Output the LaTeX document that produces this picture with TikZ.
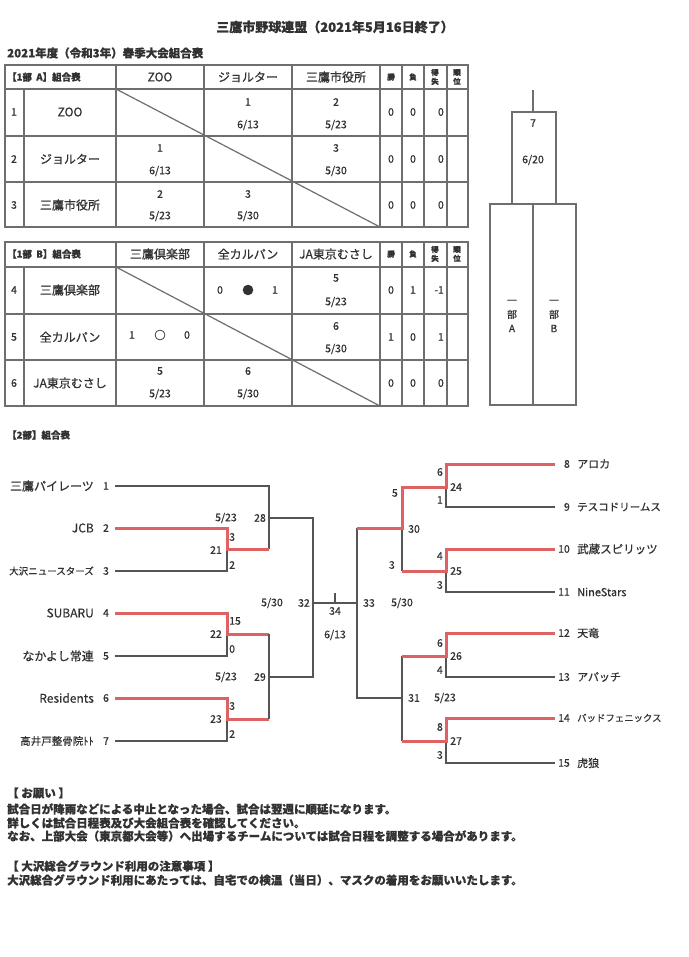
\documentclass[tikz,border=0pt]{standalone}
\usepackage{fontspec}
\setmainfont{Noto Sans CJK JP}[FakeBold=0.6]
\usepackage{tikz}
\definecolor{ink}{RGB}{50,50,50}
\definecolor{tabgray}{RGB}{110,110,110}
\definecolor{linegray}{RGB}{85,85,85}
\definecolor{winred}{RGB}{222,98,98}
\newcommand{\setfs}[1]{\fontsize{#1}{#1}\selectfont}

\begin{document}
\begin{tikzpicture}[x=1pt,y=-1pt,
        every node/.style={text=ink, inner sep=0pt},
        tabline/.style={draw=tabgray, line width=1.2pt},
        lost/.style={draw=linegray, line width=1.2pt},
        won/.style={draw=winred, line width=3pt},
        nm/.style={font=\setfs{12}},
        sc/.style={font=\setfs{10.5}},
        sm/.style={font=\bfseries\fontsize{7.5}{9}\selectfont, align=center},
        hd/.style={font=\bfseries\setfs{9.5}, anchor=west},
        nt/.style={font=\bfseries\setfs{11.5}, anchor=west},
        vt/.style={font=\fontsize{10}{14}\selectfont, align=center}]
        \fill[white] (0,0) rectangle (688,957);
        \useasboundingbox (0,0) rectangle (688,957);

        \node[font=\bfseries\setfs{13}] (title) at (335,27) {三鷹市野球連盟（2021年5月16日終了）};
        \node[font=\bfseries\setfs{11.5}, anchor=west] (subtitle) at (7,53) {2021年度（令和3年）春季大会組合表};

        % 1部 A
        \draw[tabline] (5,65) rectangle (468,227);
        \draw[tabline] (5,89) -- (468,89);
        \draw[tabline] (5,136) -- (468,136);
        \draw[tabline] (5,182) -- (468,182);
        \draw[tabline] (24,89) -- (24,227);
        \draw[tabline] (116,65) -- (116,227);
        \draw[tabline] (204,65) -- (204,227);
        \draw[tabline] (292,65) -- (292,227);
        \draw[tabline] (380,65) -- (380,227);
        \draw[tabline] (402,65) -- (402,227);
        \draw[tabline] (424,65) -- (424,227);
        \draw[tabline] (447,65) -- (447,227);
        \draw[tabline] (116,89) -- (380,227);

        \node[hd] (hA) at (7,77) {【1部~~A】組合表};
        \node[nm] (hA1) at (160,77) {ZOO};
        \node[nm] (hA2) at (248,77) {ジョルター};
        \node[nm] (hA3) at (336,77) {三鷹市役所};
        \node[sm] (hAw) at (391,77) {勝};
        \node[sm] (hAl) at (413,77) {負};
        \node[sm] (hAd) at (435,77) {得\\失};
        \node[sm] (hAr) at (457,77) {順\\位};

        \node[sc] (rA1) at (14,112) {1};
        \node[nm] (tA1) at (70,112) {ZOO};
        \node[sc] (cA12a) at (248,102) {1};
        \node[sc] (cA12b) at (248,125) {6/13};
        \node[sc] (cA13a) at (336,102) {2};
        \node[sc] (cA13b) at (336,125) {5/23};
        \node[sc] (wA1) at (391,112) {0};
        \node[sc] (lA1) at (413,112) {0};
        \node[sc, anchor=east] (dA1) at (444,112) {0};

        \node[sc] (rA2) at (14,159) {2};
        \node[nm] (tA2) at (70,159) {ジョルター};
        \node[sc] (cA21a) at (160,148) {1};
        \node[sc] (cA21b) at (160,171) {6/13};
        \node[sc] (cA23a) at (336,148) {3};
        \node[sc] (cA23b) at (336,171) {5/30};
        \node[sc] (wA2) at (391,159) {0};
        \node[sc] (lA2) at (413,159) {0};
        \node[sc, anchor=east] (dA2) at (444,159) {0};

        \node[sc] (rA3) at (14,205) {3};
        \node[nm] (tA3) at (70,205) {三鷹市役所};
        \node[sc] (cA31a) at (160,194) {2};
        \node[sc] (cA31b) at (160,216) {5/23};
        \node[sc] (cA32a) at (248,194) {3};
        \node[sc] (cA32b) at (248,216) {5/30};
        \node[sc] (wA3) at (391,205) {0};
        \node[sc] (lA3) at (413,205) {0};
        \node[sc, anchor=east] (dA3) at (444,205) {0};

        % 1部 B
        \draw[tabline] (5,242) rectangle (468,406);
        \draw[tabline] (5,267) -- (468,267);
        \draw[tabline] (5,314) -- (468,314);
        \draw[tabline] (5,360) -- (468,360);
        \draw[tabline] (24,267) -- (24,406);
        \draw[tabline] (116,242) -- (116,406);
        \draw[tabline] (204,242) -- (204,406);
        \draw[tabline] (292,242) -- (292,406);
        \draw[tabline] (380,242) -- (380,406);
        \draw[tabline] (402,242) -- (402,406);
        \draw[tabline] (424,242) -- (424,406);
        \draw[tabline] (447,242) -- (447,406);
        \draw[tabline] (116,267) -- (380,406);

        \node[hd] (hB) at (7,254) {【1部~~B】組合表};
        \node[nm] (hB1) at (160,254) {三鷹倶楽部};
        \node[nm] (hB2) at (248,254) {全カルパン};
        \node[nm] (hB3) at (336,254) {JA東京むさし};
        \node[sm] (hBw) at (391,254) {勝};
        \node[sm] (hBl) at (413,254) {負};
        \node[sm] (hBd) at (435,254) {得\\失};
        \node[sm] (hBr) at (457,254) {順\\位};

        \node[sc] (rB4) at (14,290) {4};
        \node[nm] (tB4) at (70,290) {三鷹倶楽部};
        \node[sc] (cB45a) at (220,290) {0};
        \node[sc, font=\setfs{11.5}] (cB45m) at (248,290) {●};
        \node[sc] (cB45b) at (275,290) {1};
        \node[sc] (cB46a) at (336,278) {5};
        \node[sc] (cB46b) at (336,302) {5/23};
        \node[sc] (wB4) at (391,290) {0};
        \node[sc] (lB4) at (413,290) {1};
        \node[sc, anchor=east] (dB4) at (444,290) {-1};

        \node[sc] (rB5) at (14,337) {5};
        \node[nm] (tB5) at (70,337) {全カルパン};
        \node[sc] (cB54a) at (132,335) {1};
        \node[sc, font=\setfs{11.5}] (cB54m) at (160,335) {○};
        \node[sc] (cB54b) at (187,335) {0};
        \node[sc] (cB56a) at (336,326) {6};
        \node[sc] (cB56b) at (336,349) {5/30};
        \node[sc] (wB5) at (391,337) {1};
        \node[sc] (lB5) at (413,337) {0};
        \node[sc, anchor=east] (dB5) at (444,337) {1};

        \node[sc] (rB6) at (14,383) {6};
        \node[nm] (tB6) at (70,383) {JA東京むさし};
        \node[sc] (cB64a) at (160,371) {5};
        \node[sc] (cB64b) at (160,394) {5/23};
        \node[sc] (cB65a) at (248,371) {6};
        \node[sc] (cB65b) at (248,394) {5/30};
        \node[sc] (wB6) at (391,383) {0};
        \node[sc] (lB6) at (413,383) {0};
        \node[sc, anchor=east] (dB6) at (444,383) {0};

        % 1部 決勝
        \draw[tabline] (533,90) -- (533,112);
        \draw[tabline] (512,112) rectangle (556,204);
        \draw[tabline] (490,204) rectangle (576,405);
        \draw[tabline] (533,204) -- (533,405);
        \node[sc] (fin) at (533,123) {7};
        \node[sc] (findate) at (533,160) {6/20};
        \node[vt] (divA) at (512,316) {一\\部\\A};
        \node[vt] (divB) at (554,316) {一\\部\\B};

        % 2部
        \node[hd] (h2) at (7,435) {【2部】組合表};

        \draw[lost] (115,486) -- (269,486) -- (269,549);
        \draw[lost] (115,571) -- (227,571) -- (227,549);
        \draw[won] (115,528) -- (227,528) -- (227,549) -- (269,549);
        \draw[lost] (115,656) -- (227,656) -- (227,634);
        \draw[won] (115,613) -- (227,613) -- (227,634) -- (269,634);
        \draw[lost] (115,741) -- (227,741) -- (227,719);
        \draw[won] (115,698) -- (227,698) -- (227,719) -- (269,719);
        \draw[lost] (269,634) -- (269,719);
        \draw[lost] (269,518) -- (313,518) -- (313,677) -- (269,677);
        \draw[lost] (313,603) -- (357,603);
        \draw[lost] (335,593) -- (335,603);

        \node[nm, anchor=east] (t1) at (94,486) {三鷹パイレーツ};
        \node[nm, anchor=east] (t2) at (94,528) {JCB};
        \node[nm, anchor=east, font=\setfs{9.5}] (t3) at (94,571) {大沢ニュースターズ};
        \node[nm, anchor=east] (t4) at (94,613) {SUBARU};
        \node[nm, anchor=east] (t5) at (94,656) {なかよし常連};
        \node[nm, anchor=east] (t6) at (94,698) {Residents};
        \node[nm, anchor=east, font=\setfs{10.5}] (t7) at (94,741) {高井戸整骨院ﾄﾄ};
        \node[sc] (n1) at (106,486) {1};
        \node[sc] (n2) at (106,528) {2};
        \node[sc] (n3) at (106,571) {3};
        \node[sc] (n4) at (106,613) {4};
        \node[sc] (n5) at (106,656) {5};
        \node[sc] (n6) at (106,698) {6};
        \node[sc] (n7) at (106,741) {7};

        \node[sc] (d21) at (226,518) {5/23};
        \node[sc, anchor=west] (s21a) at (229,537) {3};
        \node[sc, anchor=east] (m21) at (222,550) {21};
        \node[sc, anchor=west] (s21b) at (229,565) {2};
        \node[sc, anchor=east] (m28) at (266,518) {28};
        \node[sc, anchor=west] (s22a) at (229,621) {15};
        \node[sc, anchor=east] (m22) at (222,634) {22};
        \node[sc, anchor=west] (s22b) at (229,649) {0};
        \node[sc] (d23) at (226,677) {5/23};
        \node[sc, anchor=east] (m29) at (266,677) {29};
        \node[sc, anchor=west] (s23a) at (229,706) {3};
        \node[sc, anchor=east] (m23) at (222,719) {23};
        \node[sc, anchor=west] (s23b) at (229,734) {2};
        \node[sc] (d32) at (272,603) {5/30};
        \node[sc, anchor=east] (m32) at (310,603) {32};
        \node[sc] (m34) at (335,611) {34};
        \node[sc] (d34) at (335,635) {6/13};
        \node[sc] (m33) at (369,603) {33};
        \node[sc] (d33) at (402,603) {5/30};

        \draw[lost] (357,528) -- (357,698) -- (402,698);
        \draw[lost] (402,528) -- (402,571);
        \draw[lost] (446,487) -- (446,507) -- (555,507);
        \draw[lost] (446,571) -- (446,592) -- (555,592);
        \draw[lost] (402,656) -- (402,741);
        \draw[lost] (446,656) -- (446,677) -- (555,677);
        \draw[lost] (446,741) -- (446,763) -- (555,763);
        \draw[won] (357,528) -- (402,528) -- (402,487) -- (446,487) -- (446,464) -- (555,464);
        \draw[won] (402,571) -- (446,571) -- (446,549) -- (555,549);
        \draw[won] (402,656) -- (446,656) -- (446,633) -- (555,633);
        \draw[won] (402,741) -- (446,741) -- (446,718) -- (555,718);

        \node[sc, anchor=east] (n8) at (570,464) {8};
        \node[sc, anchor=east] (n9) at (570,507) {9};
        \node[sc, anchor=east] (n10) at (570,549) {10};
        \node[sc, anchor=east] (n11) at (570,592) {11};
        \node[sc, anchor=east] (n12) at (570,633) {12};
        \node[sc, anchor=east] (n13) at (570,677) {13};
        \node[sc, anchor=east] (n14) at (570,718) {14};
        \node[sc, anchor=east] (n15) at (570,763) {15};
        \node[nm, anchor=west, font=\setfs{11}] (t8) at (577,464) {アロカ};
        \node[nm, anchor=west, font=\setfs{10.5}] (t9) at (577,507) {テスコドリームス};
        \node[nm, anchor=west, font=\setfs{11.5}] (t10) at (577,549) {武蔵スピリッツ};
        \node[nm, anchor=west, font=\setfs{11}] (t11) at (577,592) {NineStars};
        \node[nm, anchor=west, font=\setfs{11}] (t12) at (577,633) {天竜};
        \node[nm, anchor=west, font=\setfs{11}] (t13) at (577,677) {アパッチ};
        \node[nm, anchor=west, font=\setfs{9.4}] (t14) at (577,718) {バッドフェニックス};
        \node[nm, anchor=west, font=\setfs{11}] (t15) at (577,763) {虎狼};

        \node[sc, anchor=east] (s30a) at (398,493) {5};
        \node[sc, anchor=west] (m30) at (408,529) {30};
        \node[sc, anchor=east] (s30b) at (395,565) {3};
        \node[sc, anchor=east] (s24a) at (443,472) {6};
        \node[sc, anchor=west] (m24) at (450,487) {24};
        \node[sc, anchor=east] (s24b) at (443,500) {1};
        \node[sc, anchor=east] (s25a) at (443,556) {4};
        \node[sc, anchor=west] (m25) at (450,571) {25};
        \node[sc, anchor=east] (s25b) at (443,585) {3};
        \node[sc, anchor=west] (m31) at (408,698) {31};
        \node[sc] (d31) at (445,698) {5/23};
        \node[sc, anchor=east] (s26a) at (443,643) {6};
        \node[sc, anchor=west] (m26) at (450,656) {26};
        \node[sc, anchor=east] (s26b) at (443,670) {4};
        \node[sc, anchor=east] (s27a) at (443,727) {8};
        \node[sc, anchor=west] (m27) at (450,741) {27};
        \node[sc, anchor=east] (s27b) at (443,755) {3};

        % notes
        \node[nt] (req) at (7,793) {【~お願い~】};
        \node[nt] (req1) at (7,809) {試合日が降雨などによる中止となった場合、試合は翌週に順延になります。};
        \node[nt] (req2) at (7,823) {詳しくは試合日程表及び大会組合表を確認してください。};
        \node[nt] (req3) at (7,836) {なお、上部大会（東京都大会等）へ出場するチームについては試合日程を調整する場合があります。};
        \node[nt] (use) at (7,866) {【~大沢総合グラウンド利用の注意事項~】};
        \node[nt] (use1) at (7,880) {大沢総合グラウンド利用にあたっては、自宅での検温（当日）、マスクの着用をお願いいたします。};
    \end{tikzpicture}
\end{document}
